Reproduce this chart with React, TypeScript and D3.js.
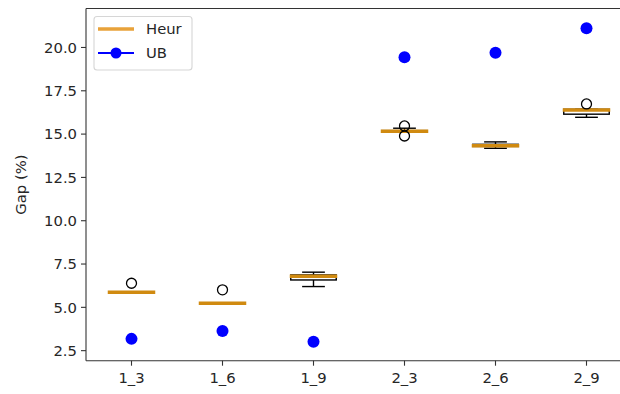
import React from 'react';
import * as d3 from 'd3';

const categories = ['1_3', '1_6', '1_9', '2_3', '2_6', '2_9'];
const whiskerLow = [5.87, 5.24, 6.2, 15.16, 14.18, 15.97];
const q1 = [5.87, 5.24, 6.58, 15.16, 14.29, 16.15];
const median = [5.87, 5.24, 6.8, 15.16, 14.33, 16.39];
const q3 = [5.87, 5.24, 6.87, 15.2, 14.41, 16.43];
const whiskerHigh = [5.87, 5.24, 7.03, 15.34, 14.55, 16.43];
const outliers = [[6.39], [6.01], [], [15.47, 14.89], [], [16.74]];
const ub = [3.18, 3.64, 3.02, 19.43, 19.7, 21.11];
const yTicks = [2.5, 5.0, 7.5, 10.0, 12.5, 15.0, 17.5, 20.0];

const W = 620;
const H = 394;
const left = 86;
const right = 632; // axes run past the picture edge
const top = 8.5;
const bottom = 360.7;
const font = '"DejaVu Sans", sans-serif';
const fs = 14.8;
const medColor = '#d08a10';
const textColor = '#262626';

export default function App() {
  const x = d3.scaleBand().domain(categories).range([left, right]).padding(0);
  const y = d3.scaleLinear().domain([1.92, 22.25]).range([bottom, top]);
  const bw = x.bandwidth() * 0.5;
  const cx = (c: string) => (x(c) ?? 0) + x.bandwidth() / 2;

  return (
    <svg width={W} height={H} style={{ position: 'absolute', left: 0, top: 0, background: '#fff' }}>
      {/* boxes */}
      {categories.map((c, i) => {
        const m = cx(c);
        return (
          <g key={c} stroke="#000" strokeWidth={1.4} fill="none">
            <line x1={m} x2={m} y1={y(whiskerLow[i])} y2={y(q1[i])} />
            <line x1={m} x2={m} y1={y(q3[i])} y2={y(whiskerHigh[i])} />
            <line x1={m - bw / 4} x2={m + bw / 4} y1={y(whiskerLow[i])} y2={y(whiskerLow[i])} />
            <line x1={m - bw / 4} x2={m + bw / 4} y1={y(whiskerHigh[i])} y2={y(whiskerHigh[i])} />
            <rect x={m - bw / 2} y={y(q3[i])} width={bw} height={y(q1[i]) - y(q3[i])} />
            <line
              x1={m - bw / 2 - 1}
              x2={m + bw / 2 + 1}
              y1={y(median[i])}
              y2={y(median[i])}
              stroke={medColor}
              strokeWidth={3.5}
            />
            {outliers[i].map((v, k) => (
              <circle key={k} cx={m} cy={y(v)} r={5} stroke="#000" strokeWidth={1.3} fill="none" />
            ))}
          </g>
        );
      })}

      {/* UB points */}
      {categories.map((c, i) => (
        <circle key={'ub' + c} cx={cx(c)} cy={y(ub[i])} r={6} fill="#0000ff" />
      ))}

      {/* axes */}
      <g stroke="#333" strokeWidth={1.1}>
        <line x1={left} x2={left} y1={top} y2={bottom} />
        <line x1={left} x2={W} y1={top} y2={top} />
        <line x1={left} x2={W} y1={bottom} y2={bottom} />
      </g>
      {yTicks.map((t) => (
        <g key={t}>
          <line x1={left - 5} x2={left} y1={y(t)} y2={y(t)} stroke="#333" strokeWidth={1.1} />
          <text
            x={left - 9}
            y={y(t)}
            dy="0.35em"
            textAnchor="end"
            fontFamily={font}
            fontSize={fs}
            fill={textColor}
          >
            {t.toFixed(1)}
          </text>
        </g>
      ))}
      {categories.map((c) => (
        <g key={'xt' + c}>
          <line x1={cx(c)} x2={cx(c)} y1={bottom} y2={bottom + 5} stroke="#333" strokeWidth={1.1} />
          <text
            x={cx(c)}
            y={bottom + 22}
            textAnchor="middle"
            fontFamily={font}
            fontSize={fs}
            fill={textColor}
          >
            {c}
          </text>
        </g>
      ))}
      <text
        transform={`translate(26, ${(top + bottom) / 2}) rotate(-90)`}
        textAnchor="middle"
        fontFamily={font}
        fontSize={fs}
        fill={textColor}
      >
        Gap (%)
      </text>

      {/* legend */}
      <g>
        <rect x={94} y={16.5} width={98} height={53.5} rx={3} fill="#fff" stroke="#d6d6d6" strokeWidth={1.1} />
        <line x1={98} x2={134} y1={29} y2={29} stroke="#e8a23a" strokeWidth={3.5} />
        <text x={146} y={29} dy="0.35em" fontFamily={font} fontSize={fs} fill={textColor}>
          Heur
        </text>
        <line x1={98} x2={134} y1={53} y2={53} stroke="#0000ff" strokeWidth={2.2} />
        <circle cx={116} cy={53} r={5.5} fill="#0000ff" />
        <text x={146} y={53} dy="0.35em" fontFamily={font} fontSize={fs} fill={textColor}>
          UB
        </text>
      </g>
    </svg>
  );
}
